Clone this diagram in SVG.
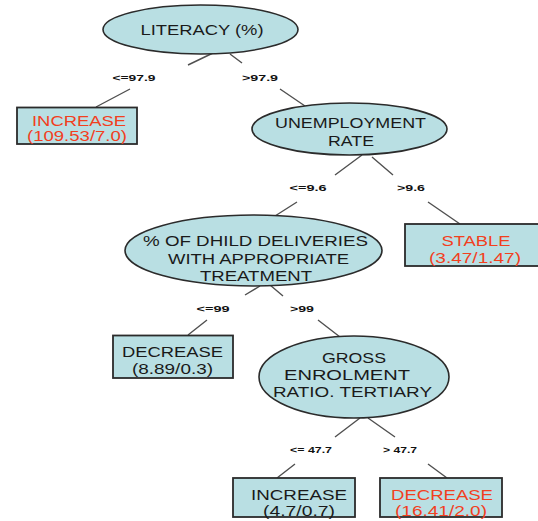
<svg xmlns="http://www.w3.org/2000/svg" width="538" height="521" viewBox="0 0 538 521">
  <style>
    .node { fill: #b9dfe3; stroke: #2b2b2b; stroke-width: 1.6; }
    .leaf { fill: #b9dfe3; stroke: #2b2b2b; stroke-width: 1.8; }
    .txt { font-family: "Liberation Sans", Arial, sans-serif; font-size: 14px; fill: #1a1a1a; text-anchor: middle; }
    .red { fill: #f2401e; }
    .lbl { font-family: "Liberation Sans", Arial, sans-serif; font-size: 9.5px; font-weight: bold; fill: #111; text-anchor: middle; }
    .edge { stroke: #505050; stroke-width: 1.4; fill: none; }
  </style>
  <rect width="538" height="521" fill="#ffffff"/>

  <!-- connectors: each split around its condition label -->
  <g id="connectors">
    <path class="edge" d="M213,53 L188,65 M130,89 L96,107"/>
    <path class="edge" d="M230,54 L242,63 M280,89 L305,106"/>
    <path class="edge" d="M362,155 L335,175 M297,202 L275,216"/>
    <path class="edge" d="M372,157 L393,175 M428,202 L460,224"/>
    <path class="edge" d="M260,286 L245,295 M207,320 L188,335"/>
    <path class="edge" d="M270,285 L283,296 M318,320 L340,337"/>
    <path class="edge" d="M360,418 L335,437 M295,464 L277,478"/>
    <path class="edge" d="M368,418 L395,437 M428,464 L447,478"/>
    <text class="lbl" x="134" y="81" textLength="43" lengthAdjust="spacingAndGlyphs">&lt;=97.9</text>
    <text class="lbl" x="260" y="81" textLength="36" lengthAdjust="spacingAndGlyphs">&gt;97.9</text>
    <text class="lbl" x="308" y="191" textLength="37" lengthAdjust="spacingAndGlyphs">&lt;=9.6</text>
    <text class="lbl" x="411" y="191" textLength="28" lengthAdjust="spacingAndGlyphs">&gt;9.6</text>
    <text class="lbl" x="213" y="312" textLength="33" lengthAdjust="spacingAndGlyphs">&lt;=99</text>
    <text class="lbl" x="302" y="312" textLength="24" lengthAdjust="spacingAndGlyphs">&gt;99</text>
    <text class="lbl" x="311" y="453" textLength="42" lengthAdjust="spacingAndGlyphs">&lt;= 47.7</text>
    <text class="lbl" x="400" y="453" textLength="34" lengthAdjust="spacingAndGlyphs">&gt; 47.7</text>
  </g>

  <g id="literacy">
    <ellipse class="node" cx="200.5" cy="29.5" rx="97.5" ry="24.5"/>
    <text class="txt" x="202" y="35" textLength="123" lengthAdjust="spacingAndGlyphs">LITERACY (%)</text>
  </g>

  <g id="leaf-increase-1">
    <rect class="leaf" x="17" y="107.5" width="120" height="36.5"/>
    <text class="txt red" x="79" y="126" textLength="94" lengthAdjust="spacingAndGlyphs">INCREASE</text>
    <text class="txt red" x="77" y="141" textLength="100" lengthAdjust="spacingAndGlyphs">(109.53/7.0)</text>
  </g>

  <g id="unemployment">
    <ellipse class="node" cx="349.5" cy="129" rx="97.5" ry="26"/>
    <text class="txt" x="350.5" y="128" textLength="151" lengthAdjust="spacingAndGlyphs">UNEMPLOYMENT</text>
    <text class="txt" x="351" y="146" textLength="46" lengthAdjust="spacingAndGlyphs">RATE</text>
  </g>

  <g id="child-deliveries">
    <ellipse class="node" cx="253.5" cy="250.5" rx="128.5" ry="35.5"/>
    <text class="txt" x="255.5" y="246" textLength="225" lengthAdjust="spacingAndGlyphs">% OF DHILD DELIVERIES</text>
    <text class="txt" x="258.5" y="264" textLength="181" lengthAdjust="spacingAndGlyphs">WITH APPROPRIATE</text>
    <text class="txt" x="256" y="281" textLength="112" lengthAdjust="spacingAndGlyphs">TREATMENT</text>
  </g>

  <g id="leaf-stable">
    <rect class="leaf" x="405" y="224" width="140" height="42"/>
    <text class="txt red" x="476" y="246" textLength="69" lengthAdjust="spacingAndGlyphs">STABLE</text>
    <text class="txt red" x="475" y="263" textLength="92" lengthAdjust="spacingAndGlyphs">(3.47/1.47)</text>
  </g>

  <g id="leaf-decrease-1">
    <rect class="leaf" x="113" y="335.5" width="120" height="42.5"/>
    <text class="txt" x="172.5" y="357" textLength="101" lengthAdjust="spacingAndGlyphs">DECREASE</text>
    <text class="txt" x="172.5" y="374" textLength="81" lengthAdjust="spacingAndGlyphs">(8.89/0.3)</text>
  </g>

  <g id="gross-enrolment">
    <ellipse class="node" cx="354" cy="377" rx="95" ry="41"/>
    <text class="txt" x="354" y="363" textLength="64" lengthAdjust="spacingAndGlyphs">GROSS</text>
    <text class="txt" x="347" y="380" textLength="126" lengthAdjust="spacingAndGlyphs">ENROLMENT</text>
    <text class="txt" x="352.5" y="397" textLength="159" lengthAdjust="spacingAndGlyphs">RATIO. TERTIARY</text>
  </g>

  <g id="leaf-increase-2">
    <rect class="leaf" x="233" y="478" width="122" height="39"/>
    <text class="txt" x="299" y="500" textLength="96" lengthAdjust="spacingAndGlyphs">INCREASE</text>
    <text class="txt" x="299" y="516" textLength="72" lengthAdjust="spacingAndGlyphs">(4.7/0.7)</text>
  </g>

  <g id="leaf-decrease-2">
    <rect class="leaf" x="380" y="478" width="122" height="39"/>
    <text class="txt red" x="442" y="500" textLength="102" lengthAdjust="spacingAndGlyphs">DECREASE</text>
    <text class="txt red" x="441" y="516" textLength="92" lengthAdjust="spacingAndGlyphs">(16.41/2.0)</text>
  </g>
</svg>
